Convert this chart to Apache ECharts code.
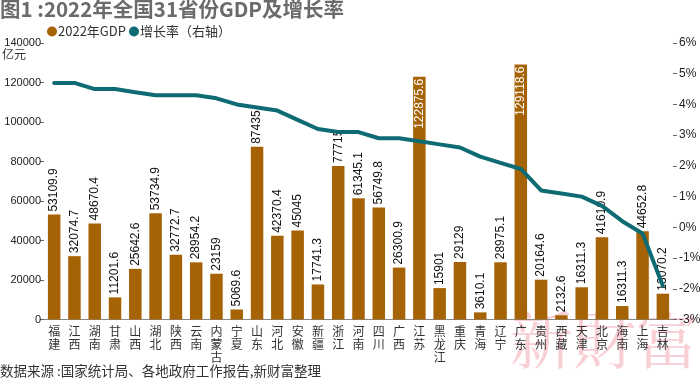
<!DOCTYPE html>
<html><head><meta charset="utf-8">
<script src="https://cdn.jsdelivr.net/npm/echarts@6/dist/echarts.min.js"></script>
<style>html,body{margin:0;padding:0;background:#fff}#c{width:700px;height:380px}</style>
</head><body><div id="c"></div>
<script>
const provinces = ['福建','江西','湖南','甘肃','山西','湖北','陕西','云南','内蒙古','宁夏','山东','河北','安徽','新疆','浙江','河南','四川','广西','江苏','黑龙江','重庆','青海','辽宁','广东','贵州','西藏','天津','北京','海南','上海','吉林'];
const gdp = [53109.9,32074.7,48670.4,11201.6,25642.6,53734.9,32772.7,28954.2,23159,5069.6,87435,42370.4,45045,17741.3,77715,61345.1,56749.8,26300.9,122875.6,15901,29129,3610.1,28975.1,129118.6,20164.6,2132.6,16311.3,41610.9,6818.2,44652.8,13070.2];
const gdpLabels = ['53109.9','32074.7','48670.4','11201.6','25642.6','53734.9','32772.7','28954.2','23159','5069.6','87435','42370.4','45045','17741.3','77715','61345.1','56749.8','26300.9','122875.6','15901','29129','3610.1','28975.1','129118.6','20164.6','2132.6','16311.3','41610.9','16311.3','44652.8','13070.2'];
const growth = [4.7,4.7,4.5,4.5,4.4,4.3,4.3,4.3,4.2,4.0,3.9,3.8,3.5,3.2,3.1,3.1,2.9,2.9,2.8,2.7,2.6,2.3,2.1,1.9,1.2,1.1,1.0,0.7,0.2,-0.2,-1.9];
const leftTicks = {min:0,max:140000,interval:20000};
const rightTicks = {min:-3,max:6,interval:1};

const numFont = '"Liberation Sans",Arial,sans-serif';
const cjk = '"Noto Sans CJK SC",sans-serif';
const chart = echarts.init(document.getElementById('c'));
const barData = gdp.map((v,i)=>{
  const item = {value:v};
  if (v > 110000) {
    item.label = {position:'insideTop', align:'right', color:'#fff', distance:2};
  }
  return item;
});
chart.setOption({
  animation:false,
  title:{text:'图1 :2022年全国31省份GDP及增长率',left:0,top:-1,padding:0,
    textStyle:{fontFamily:cjk,fontSize:20.5,fontWeight:'bold',color:'#6b6b6b'}},
  legend:{data:['2022年GDP','增长率（右轴）'],icon:'circle',left:47,top:25,itemWidth:10,itemHeight:10,itemGap:3,padding:0,
    textStyle:{fontFamily:cjk,fontSize:13,color:'#333',padding:[0,0,0,-4]}},
  grid:{left:44,right:27,top:43,bottom:60.5,outerBoundsMode:'none',containLabel:false},
  graphic:[
    {type:'text',left:2,top:48,style:{text:'亿元',font:'12px '+cjk,fill:'#333'}},
    {type:'text',left:0,top:364,style:{text:'数据来源 :国家统计局、各地政府工作报告,新财富整理',font:'13.5px '+cjk,fill:'#333'}},
    {type:'text',left:510,top:308,z:-10,style:{text:'新財富',font:'63px "Noto Serif CJK SC","Noto Sans CJK SC",serif',fill:'rgba(238,140,152,0.42)'}}
  ],
  xAxis:{type:'category',data:provinces,
    axisLine:{lineStyle:{color:'#888',width:1}},axisTick:{show:false},
    axisLabel:{interval:0,margin:5,fontFamily:cjk,fontSize:12,lineHeight:13,color:'#333',
      formatter:v=>v.split('').join('\n')}},
  yAxis:[
    {type:'value',min:leftTicks.min,max:leftTicks.max,interval:leftTicks.interval,
     splitLine:{show:false},axisLine:{show:false},
     axisTick:{show:true,length:4,lineStyle:{color:'#666'}},
     axisLabel:{margin:3,fontFamily:numFont,fontSize:11,color:'#222',formatter:v=>String(v)}},
    {type:'value',position:'right',min:rightTicks.min,max:rightTicks.max,interval:rightTicks.interval,
     splitLine:{show:false},axisLine:{show:false},
     axisTick:{show:true,length:4,lineStyle:{color:'#666'}},
     axisLabel:{margin:6,fontFamily:numFont,fontSize:12,color:'#222',formatter:v=>v+'%'}}
  ],
  series:[
    {name:'2022年GDP',type:'bar',data:barData,barWidth:12.5,itemStyle:{color:'#a66305'},z:2,
     label:{show:true,position:'top',rotate:90,align:'left',verticalAlign:'middle',distance:3,
       fontFamily:numFont,fontSize:12,color:'#111',formatter:p=>gdpLabels[p.dataIndex]}},
    {name:'增长率（右轴）',type:'line',yAxisIndex:1,data:growth,symbol:'none',z:5,
     lineStyle:{color:'#0e6b73',width:4,cap:'round',join:'round'},itemStyle:{color:'#0e6b73'}}
  ]
});
</script></body></html>
